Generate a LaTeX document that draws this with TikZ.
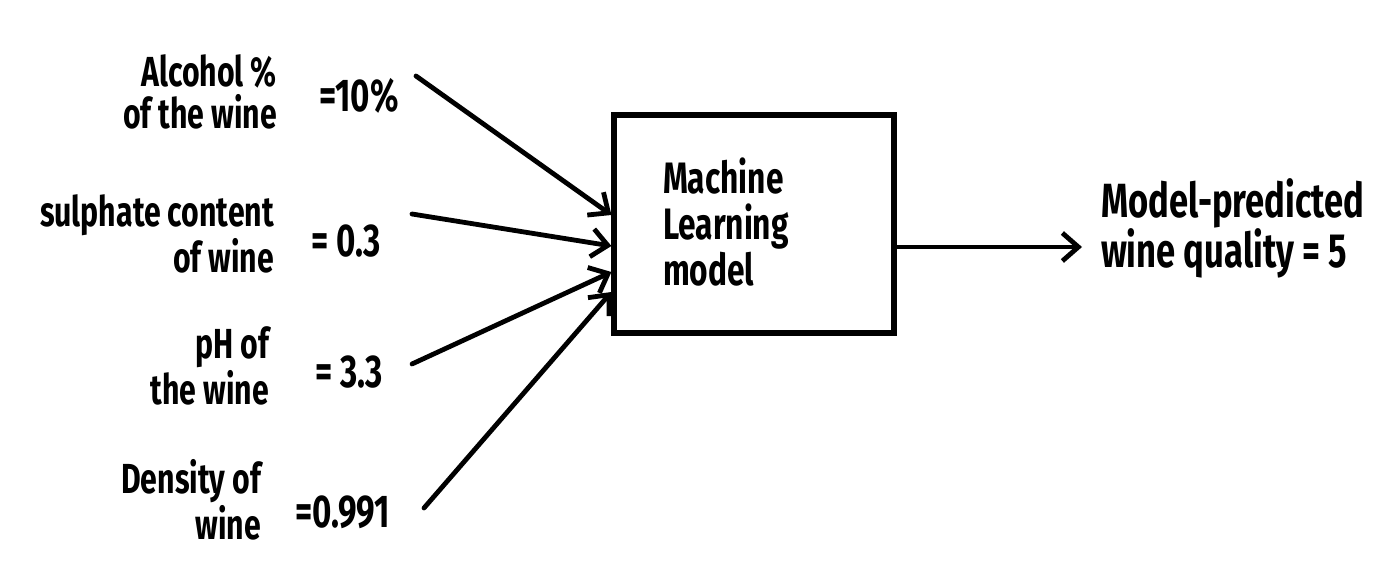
\documentclass[tikz,border=0pt]{standalone}
\usepackage{fontspec}
\setmainfont{Fira Sans}[FakeStretch=0.72]
\usetikzlibrary{arrows.meta}

\tikzset{
  feature/.style={anchor=east, align=right, font=\fontsize{21}{21}\selectfont\bfseries},
  value/.style={anchor=west, font=\fontsize{23}{23}\selectfont\bfseries},
  modelbox/.style={draw, line width=2.6pt, minimum width=140pt, minimum height=109pt},
  link/.style={line width=2.4pt, line cap=round, -{Straight Barb[length=8pt, width=14pt, line width=2.4pt]}}
}

\begin{document}
\begin{tikzpicture}[x=0.5pt, y=-0.5pt]
\useasboundingbox (0,0) rectangle (1400,587);

% inputs
\node[feature] (alc) at (284,92) {Alcohol \%\\of the wine};
\node[value] (alcv) at (312,96) {=10\%};
\node[feature] (sul) at (281,234) {sulphate content\\of wine};
\node[value] (sulv) at (304,241) {= 0.3};
\node[feature] (ph) at (276,366) {pH of\\the wine};
\node[value] (phv) at (308,372) {= 3.3};
\node[feature] (den) at (268,500) {Density of\\wine};
\node[value] (denv) at (288,512) {=0.991};

% model
\node[modelbox] (model) at (754,224) {};
\node[anchor=west, align=left, font=\fontsize{22}{23}\selectfont\bfseries] (mltext) at (656,222) {Machine\\Learning\\model};

% output
\node[anchor=west, align=left, font=\fontsize{24}{25}\selectfont\bfseries] (out) at (1094,228) {Model-predicted\\wine quality = 5};

\coordinate (s1) at (416,76);
\coordinate (s2) at (412,214);
\coordinate (s3) at (412,364);
\coordinate (s4) at (424,508);
\coordinate (o) at (1082,247);

\draw[link] (s1) -- ([yshift=4.5pt]model.west);
\draw[link] (s2) -- ([yshift=-11pt]model.west);
\draw[link] (s3) -- ([yshift=-24pt]model.west);
\draw[link] (s4) -- ([yshift=-34pt]model.west);
\draw[link] (model.east |- o) -- (o);
\end{tikzpicture}
\end{document}
